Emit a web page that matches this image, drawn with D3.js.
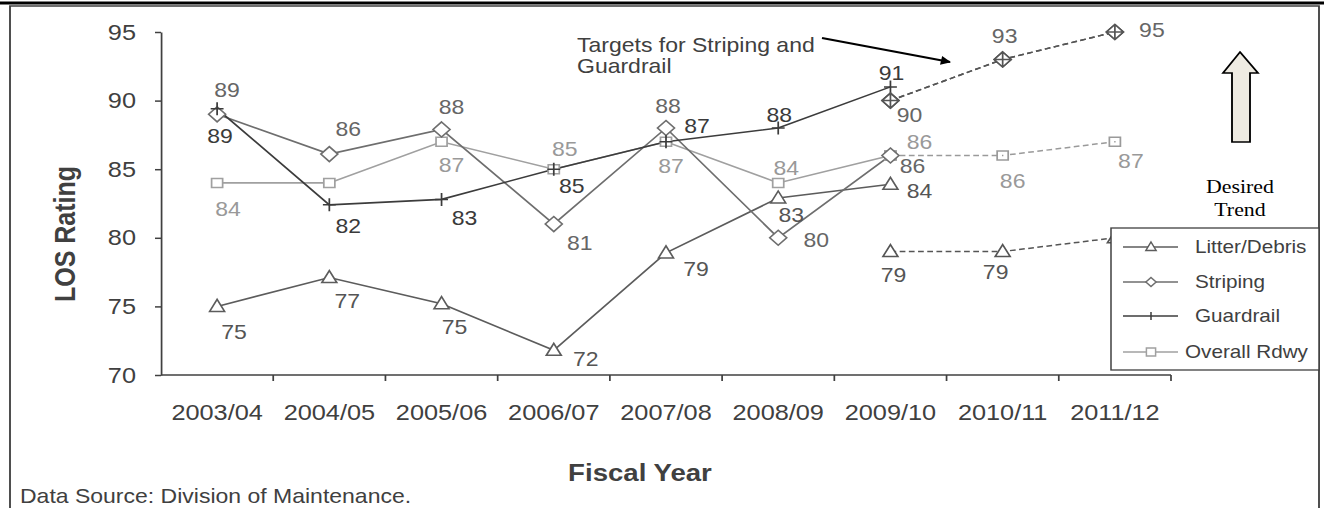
<!DOCTYPE html>
<html>
<head>
<meta charset="utf-8">
<script src="https://cdn.jsdelivr.net/npm/d3@7"></script>
<style>
html, body { margin: 0; padding: 0; background: #fff; }
svg { display: block; }
text { font-family: "Liberation Sans", Arial, sans-serif; }
</style>
</head>
<body>
<svg id="chart"></svg>
<script>
'use strict';

const years = ["2003/04", "2004/05", "2005/06", "2006/07", "2007/08", "2008/09", "2009/10", "2010/11", "2011/12"];
const actualYears = years.slice(0, 7);
const targetYears = years.slice(6);
const yTicks = [70, 75, 80, 85, 90, 95];

const litter = [75, 77.1, 75.2, 71.8, 78.9, 82.9, 83.9];
const striping = [89, 86.1, 87.9, 81, 88, 80, 86];
const guardrail = [89.4, 82.4, 82.8, 85, 87, 88, 91];
const overall = [84, 84, 87, 85, 87, 84, 86];

const litterTarget = [79, 79, 80];
const stripingTarget = [90, 93, 95];
const guardrailTarget = [90, 93, 95];
const overallTarget = [86, 86, 87];

// the original picture is stretched sideways, so draw in narrower units
const SX = 1.15;
const W = 1324, H = 508;
const px = v => v / SX;

// label offsets from each marker, in screen pixels
const litterLabelPos = [[17, 25], [18, 23], [13, 23], [32, 9], [30, 16], [13, 17], [29, 7]];
const litterTargetPos = [[3, 23], [-7, 20], null];
const stripingLabelPos = [[10, -25], [19, -25], [10, -23], [26, 19], [2, -22], [38, 2], [22, 10]];
const stripingTargetPos = [[19, 14], [2, -24], [37, -2]];
const guardrailLabelPos = [[3, 27], [19, 21], [23, 18], [18, 17], [31, -16], [1, -13], [1, -14]];
const overallLabelPos = [[11, 26], null, [10, 23], [11, -20], [5, 24], [8, -15], [29, -14]];
const overallTargetPos = [null, [10, 25], [16, 19]];

const svg = d3.select("#chart")
	.attr("width", W)
	.attr("height", H)
	.attr("viewBox", `0 0 ${px(W)} ${H}`)
	.attr("preserveAspectRatio", "none");

const x = d3.scaleBand().domain(years).range([px(161), px(1171)]);
const xc = d => x(d) + x.bandwidth() / 2;
const y = d3.scaleLinear().domain([70, 95]).range([375, 32]);

// frame
svg.append("line")
	.attr("x1", 0).attr("x2", px(W))
	.attr("y1", 3).attr("y2", 3)
	.attr("stroke", "#000").attr("stroke-width", 3);
svg.append("path")
	.attr("d", `M${px(10)},${H} V6 H${px(1319)} V${H}`)
	.attr("fill", "none")
	.attr("stroke", "#404040")
	.attr("stroke-width", 1.6);

// axes
const yAxis = svg.append("g")
	.attr("transform", `translate(${px(161)},0)`)
	.call(d3.axisLeft(y).tickValues(yTicks).tickSizeInner(px(6)).tickSizeOuter(0).tickPadding(px(19)));
yAxis.selectAll("text")
	.attr("font-size", 22)
	.attr("fill", "#404040");

const xAxis = svg.append("g")
	.attr("transform", "translate(0,375)")
	.call(d3.axisBottom(x).tickSize(0).tickPadding(29));
xAxis.select(".domain").remove();
xAxis.selectAll("text")
	.attr("font-size", 22)
	.attr("fill", "#404040");

svg.selectAll("g.tick line, .domain").attr("stroke", "#404040").attr("stroke-width", 1.5);

svg.append("line")
	.attr("x1", px(161)).attr("x2", x.range()[1])
	.attr("y1", 375).attr("y2", 375)
	.attr("stroke", "#404040").attr("stroke-width", 1.6);

svg.append("g").selectAll("line")
	.data(years.slice(1).concat(["end"]))
	.join("line")
	.attr("x1", d => d === "end" ? x.range()[1] : x(d))
	.attr("x2", d => d === "end" ? x.range()[1] : x(d))
	.attr("y1", 375).attr("y2", 381)
	.attr("stroke", "#404040").attr("stroke-width", 1.5);

// axis titles
svg.append("text")
	.attr("transform", `translate(${px(75)},234) rotate(-90)`)
	.attr("text-anchor", "middle")
	.attr("font-size", 25)
	.attr("font-weight", "bold")
	.attr("fill", "#404040")
	.text("LOS Rating");

svg.append("text")
	.attr("x", px(640)).attr("y", 481)
	.attr("text-anchor", "middle")
	.attr("font-size", 24)
	.attr("font-weight", "bold")
	.attr("fill", "#404040")
	.text("Fiscal Year");

svg.append("text")
	.attr("x", px(20)).attr("y", 503)
	.attr("font-size", 20)
	.attr("fill", "#404040")
	.text("Data Source: Division of Maintenance.");

// markers
const markers = {
	triangle: "M0,-7L6.5,5L-6.5,5Z",
	diamond: "M0,-7.5L7.4,0L0,7.5L-7.4,0Z",
	square: "M-4.8,-4.5H4.8V4.5H-4.8Z",
	plus: "M-5.6,0H5.6M0,-6.5V6.5",
	diamondPlus: "M0,-7.5L7.4,0L0,7.5L-7.4,0ZM-7.4,0H7.4M0,-7.5V7.5",
	squareDot: "M-4.8,-4.5H4.8V4.5H-4.8ZM-0.6,0H0.6"
};

const series = [
	{ name: "Overall Rdwy", values: overall, target: overallTarget, color: "#a0a0a0", text: "#999", marker: "square", tmarker: "squareDot", pos: overallLabelPos, tpos: overallTargetPos },
	{ name: "Litter/Debris", values: litter, target: litterTarget, color: "#5c5c5c", text: "#555", marker: "triangle", tmarker: "triangle", pos: litterLabelPos, tpos: litterTargetPos },
	{ name: "Striping", values: striping, target: stripingTarget, color: "#6e6e6e", text: "#666", marker: "diamond", tmarker: "diamondPlus", pos: stripingLabelPos, tpos: stripingTargetPos },
	{ name: "Guardrail", values: guardrail, target: guardrailTarget, color: "#3c3c3c", text: "#3a3a3a", marker: "plus", tmarker: "diamondPlus", pos: guardrailLabelPos, tpos: [null, null, null] }
];

const line = d3.line().x(d => xc(d.year)).y(d => y(d.value));
const pairs = (ys, vs) => vs.map((v, i) => ({ year: ys[i], value: v }));

const plot = svg.append("g");

series.forEach(s => {
	plot.append("path")
		.datum(pairs(targetYears, s.target))
		.attr("d", line)
		.attr("fill", "none")
		.attr("stroke", s.name === "Overall Rdwy" ? "#9a9a9a" : "#555")
		.attr("stroke-width", 1.5)
		.attr("stroke-dasharray", "5,3");
});

series.forEach(s => {
	plot.append("path")
		.datum(pairs(actualYears, s.values))
		.attr("d", line)
		.attr("fill", "none")
		.attr("stroke", s.color)
		.attr("stroke-width", 1.6);
});

series.forEach(s => {
	plot.append("g").selectAll("path")
		.data(pairs(actualYears, s.values))
		.join("path")
		.attr("transform", d => `translate(${xc(d.year)},${y(d.value)})`)
		.attr("d", markers[s.marker])
		.attr("fill", s.marker === "plus" ? "none" : "#fff")
		.attr("stroke", s.color)
		.attr("stroke-width", 1.5);
	plot.append("g").selectAll("path")
		.data(pairs(targetYears, s.target))
		.join("path")
		.attr("transform", d => `translate(${xc(d.year)},${y(d.value)})`)
		.attr("d", markers[s.tmarker])
		.attr("fill", "#fff")
		.attr("stroke", s.name === "Overall Rdwy" ? "#9a9a9a" : "#555")
		.attr("stroke-width", 1.5);
});

// data labels
function addLabels(data, pos, color) {
	plot.append("g").selectAll("text")
		.data(data.map((d, i) => ({ ...d, off: pos[i] })).filter(d => d.off))
		.join("text")
		.attr("x", d => xc(d.year) + px(d.off[0]))
		.attr("y", d => y(d.value) + d.off[1])
		.attr("dy", "0.36em")
		.attr("text-anchor", "middle")
		.attr("font-size", 20)
		.attr("fill", color)
		.text(d => Math.round(d.value));
}
series.forEach(s => {
	addLabels(pairs(actualYears, s.values), s.pos, s.text);
	addLabels(pairs(targetYears, s.target), s.tpos, s.text);
});

// annotation
svg.append("defs").append("marker")
	.attr("id", "head")
	.attr("viewBox", "0 0 10 10")
	.attr("refX", 9).attr("refY", 5)
	.attr("markerWidth", 5).attr("markerHeight", 4)
	.attr("orient", "auto")
	.append("path").attr("d", "M0,0L10,5L0,10Z").attr("fill", "#000");

svg.append("line")
	.attr("x1", px(822)).attr("y1", 38)
	.attr("x2", px(950)).attr("y2", 62)
	.attr("stroke", "#000").attr("stroke-width", 2.2)
	.attr("marker-end", "url(#head)");

const note = svg.append("text")
	.attr("x", px(577)).attr("y", 52)
	.attr("font-size", 20)
	.attr("fill", "#404040");
note.append("tspan").text("Targets for Striping and");
note.append("tspan").attr("x", px(577)).attr("dy", 21).text("Guardrail");

// desired trend arrow
svg.append("path")
	.attr("d", `M${px(1240)},52 L${px(1258)},73 L${px(1250)},73 L${px(1250)},142 L${px(1232)},142 L${px(1232)},73 L${px(1223)},73 Z`)
	.attr("fill", "#eeebe2")
	.attr("stroke", "#000")
	.attr("stroke-width", 1.6)
	.attr("stroke-linejoin", "miter");

const trend = svg.append("text")
	.attr("x", px(1240)).attr("y", 193)
	.attr("text-anchor", "middle")
	.style("font-family", "\"Liberation Serif\", \"Times New Roman\", serif")
	.attr("font-size", 19)
	.attr("fill", "#000");
trend.append("tspan").text("Desired");
trend.append("tspan").attr("x", px(1240)).attr("dy", 23).text("Trend");

// legend
const legendItems = [series[1], series[2], series[3], series[0]];
const legend = svg.append("g");
legend.append("rect")
	.attr("x", px(1111)).attr("y", 228)
	.attr("width", px(208)).attr("height", 142)
	.attr("fill", "#fff")
	.attr("stroke", "#404040")
	.attr("stroke-width", 1.3);

const legendMarkers = {
	triangle: "M0,-5L4.5,3.5L-4.5,3.5Z",
	diamond: "M0,-4.5L4.5,0L0,4.5L-4.5,0Z",
	plus: "M0,-4V4",
	square: "M-4,-4H4V4H-4Z"
};
const rows = legend.selectAll("g.row")
	.data(legendItems)
	.join("g")
	.attr("class", "row")
	.attr("transform", (d, i) => `translate(0,${[247, 282, 316, 352][i]})`);
rows.append("line")
	.attr("x1", px(1123)).attr("x2", px(1178))
	.attr("stroke", d => d.color).attr("stroke-width", 1.5);
rows.append("path")
	.attr("transform", `translate(${px(1151)},0)`)
	.attr("d", d => legendMarkers[d.marker])
	.attr("fill", d => d.marker === "plus" ? "none" : "#fff")
	.attr("stroke", d => d.color)
	.attr("stroke-width", 1.3);
rows.append("text")
	.attr("x", d => d.name === "Overall Rdwy" ? px(1185) : px(1195))
	.attr("dy", "0.36em")
	.attr("font-size", 18)
	.attr("fill", "#404040")
	.text(d => d.name);
</script>
</body>
</html>
